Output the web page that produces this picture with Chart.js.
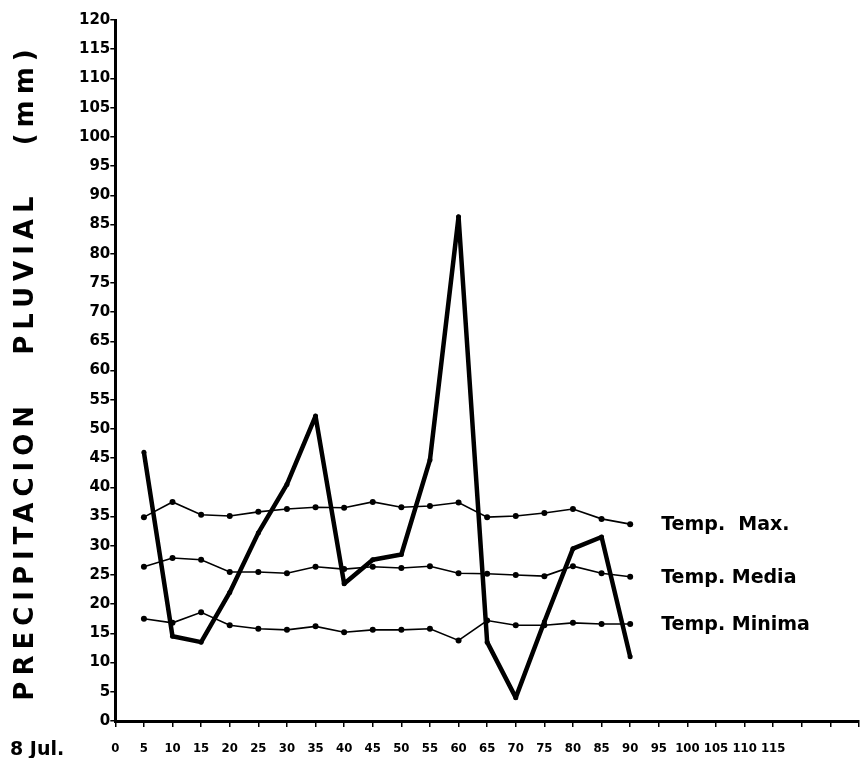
<html>
    <head>
        <meta charset="UTF-8">
        <title>Precipitacion pluvial</title>

        <script src="https://cdn.jsdelivr.net/npm/chart.js@4"></script>

        <style>
            body {
                margin: 0;
                background: #fff;
            }

            .chart_container {
                width: 863px;
                height: 758px;
            }
        </style>
    </head>

    <body>
        <div class='chart_container'>
            <canvas id='lluvia'></canvas>
        </div>

        <script>
            // dias desde el 8 de julio
            const dias = [5, 10, 15, 20, 25, 30, 35, 40, 45, 50, 55, 60, 65, 70, 75, 80, 85, 90];
            const precipitacion = [46, 14.5, 13.5, 22, 32.2, 40.5, 52.2, 23.5, 27.6, 28.5, 44.7, 86.3, 13.5, 4, 17, 29.5, 31.5, 11];
            const tempMax = [34.9, 37.5, 35.3, 35.1, 35.8, 36.3, 36.6, 36.5, 37.5, 36.6, 36.8, 37.4, 34.9, 35.1, 35.6, 36.3, 34.6, 33.7];
            const tempMedia = [26.4, 27.9, 27.6, 25.5, 25.5, 25.3, 26.4, 26.0, 26.4, 26.2, 26.5, 25.3, 25.2, 25.0, 24.8, 26.5, 25.3, 24.7];
            const tempMinima = [17.5, 16.8, 18.6, 16.4, 15.8, 15.6, 16.2, 15.2, 15.6, 15.6, 15.8, 13.8, 17.2, 16.4, 16.4, 16.8, 16.6, 16.6];
            const etiquetas = ['Temp.  Max.', 'Temp. Media', 'Temp. Minima'];
            const tituloY = 'PRECIPITACION   PLUVIAL   (mm)';
            const tituloX = '8 Jul.';
            const ultimaEtiquetaX = 115;

            function puntos(valores) {
                return dias.map((d, i) => ({ x: d, y: valores[i] }));
            }

            // textos sueltos: titulo vertical, fecha y nombres de las curvas
            const textos = {
                id: 'textos',
                afterDraw(chart) {
                    const ctx = chart.ctx;
                    const sx = chart.scales.x;
                    const sy = chart.scales.y;
                    ctx.save();
                    ctx.fillStyle = '#000';

                    ctx.save();
                    ctx.font = 'bold 26px "DejaVu Sans"';
                    ctx.letterSpacing = '6px';
                    ctx.textAlign = 'center';
                    ctx.textBaseline = 'alphabetic';
                    ctx.translate(33, 372);
                    ctx.rotate(-Math.PI / 2);
                    ctx.fillText(tituloY, 0, 0);
                    ctx.restore();

                    ctx.font = 'bold 19px "DejaVu Sans"';
                    ctx.textAlign = 'left';
                    ctx.textBaseline = 'alphabetic';
                    ctx.fillText(tituloX, 10, 755);

                    ctx.font = 'bold 19px "DejaVu Sans"';
                    ctx.textBaseline = 'middle';
                    const finales = [tempMax, tempMedia, tempMinima];
                    const xFin = sx.getPixelForValue(dias[dias.length - 1]) + 31;
                    for (let i in finales) {
                        const v = finales[i][finales[i].length - 1];
                        ctx.fillText(etiquetas[i], xFin, sy.getPixelForValue(v) + 1);
                    }
                    ctx.restore();
                }
            };

            const temp = {
                borderColor: '#000',
                backgroundColor: '#000',
                borderWidth: 1.6,
                pointRadius: 3,
                pointBorderWidth: 0,
                tension: 0
            };

            const data = {
                datasets: [
                    Object.assign({ label: etiquetas[0], data: puntos(tempMax) }, temp),
                    Object.assign({ label: etiquetas[1], data: puntos(tempMedia) }, temp),
                    Object.assign({ label: etiquetas[2], data: puntos(tempMinima) }, temp),
                    {
                        label: 'Precipitacion',
                        data: puntos(precipitacion),
                        borderColor: '#000',
                        backgroundColor: '#000',
                        borderWidth: 4.5,
                        pointRadius: 2.5,
                        pointBorderWidth: 0,
                        borderJoinStyle: 'round',
                        tension: 0
                    }
                ]
            };

            const config = {
                type: 'line',
                data: data,
                plugins: [textos],
                options: {
                    responsive: true,
                    maintainAspectRatio: false,
                    animation: false,
                    layout: {
                        padding: { left: 79, top: 20, right: -5, bottom: 0 }
                    },
                    plugins: {
                        legend: { display: false },
                        tooltip: { enabled: false }
                    },
                    scales: {
                        x: {
                            type: 'linear',
                            min: 0,
                            max: 130,
                            afterFit: (scale) => {
                                scale.height = 37;
                                scale.paddingRight = 0;
                            },
                            border: { display: true, color: '#000', width: 3 },
                            grid: { drawOnChartArea: false, drawTicks: true, tickLength: 6, color: '#000', lineWidth: 1.5 },
                            ticks: {
                                stepSize: 5,
                                autoSkip: false,
                                maxRotation: 0,
                                padding: 14,
                                color: '#000',
                                font: { family: 'DejaVu Sans Condensed', size: 13, weight: 'bold' },
                                callback: (v) => (v <= ultimaEtiquetaX ? v : '')
                            }
                        },
                        y: {
                            min: 0,
                            max: 120,
                            border: { display: true, color: '#000', width: 3 },
                            grid: { drawOnChartArea: false, drawTicks: true, tickLength: 5, color: '#000', lineWidth: 1.5 },
                            ticks: {
                                stepSize: 5,
                                autoSkip: false,
                                padding: 0,
                                color: '#000',
                                font: { family: 'DejaVu Sans', size: 15, weight: 'bold' }
                            }
                        }
                    }
                }
            };

            new Chart(document.getElementById('lluvia'), config);
        </script>
    </body>
</html>
